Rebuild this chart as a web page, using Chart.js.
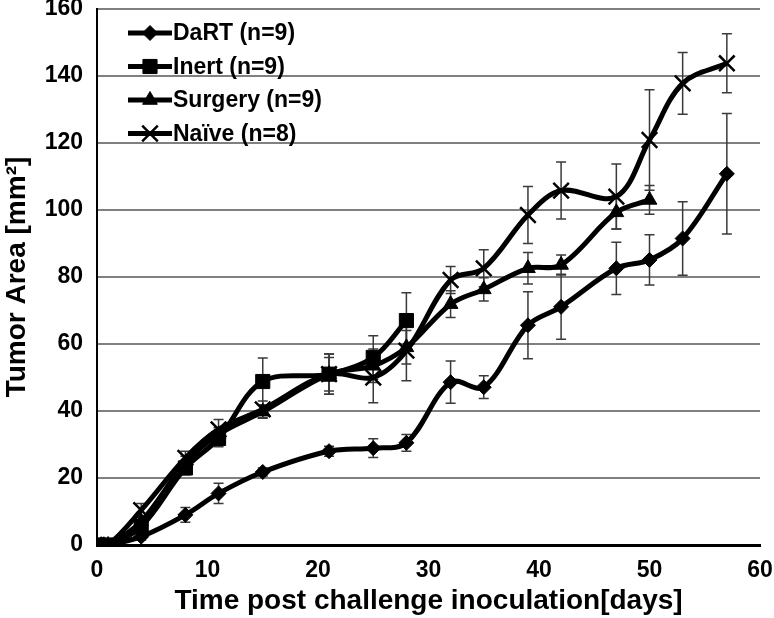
<!DOCTYPE html>
<html lang="en">
    <head>
        <meta charset="UTF-8">
        <title>Tumor Area</title>
        <script src="https://cdn.jsdelivr.net/npm/chart.js"></script>
        <style>
            body { margin: 0; background: #fff; }
        </style>
    </head>
    <body>
        <canvas id="tumor" width="774" height="618"></canvas>
    </body>
    <script>
        // days after challenge
        const days = [0, 1, 4, 8, 11, 15, 21, 25, 28, 32, 35, 39, 42, 47, 50, 53, 57];

        const dart = [0, 0, 2.5, 9, 15.4, 21.8, 28, 28.9, 30.5, 48.6, 47.1, 65.6, 71.1, 82.6, 85.1, 91.5, 110.8];
        const dartErr = [0, 0, 1, 2.2, 3, 1.2, 1.5, 2.8, 2.5, 6.3, 3.4, 10, 9.7, 7.8, 7.5, 11, 18];

        const inert = [0, 0, 5.5, 23, 31.8, 48.8, 51, 56, 67];
        const inertErr = [0, 0, 1.5, 2, 2.5, 7, 6, 6.5, 8.3];

        const surgery = [0, 0, 7, 24.5, 33, 39.8, 51, 53.5, 59, 71.9, 76.3, 82.6, 83.6, 99.3, 103];
        const surgeryErr = [0, 0, 1.5, 2, 2, 2, 5, 5, 5, 4, 3.5, 4.7, 3, 5, 4.3];

        const naive = [0, 0, 10.4, 26, 34.5, 40.5, 51, 50, 58, 79.1, 82.6, 98.5, 105.8, 104, 120.9, 137.8, 143.8];
        const naiveErr = [0, 0, 2, 2, 3, 2.5, 6, 7.5, 9, 4, 5.5, 8.5, 8.5, 9.7, 15, 9.2, 8.8];

        const FONT = '"Liberation Sans", Arial, sans-serif';

        const toPoints = (vals) => vals.map((v, i) => ({x: days[i], y: v}));

        const mkSet = (label, vals, errs, style, radius, bw) => ({
            label: label,
            data: toPoints(vals),
            errs: errs,
            borderColor: '#000',
            backgroundColor: '#000',
            borderWidth: 5,
            tension: 0.35,
            pointStyle: style,
            pointRadius: radius,
            pointBorderWidth: bw,
            pointBackgroundColor: '#000',
            pointBorderColor: '#000'
        });

        // error bars, drawn under the lines
        const errorBars = {
            id: 'errorBars',
            beforeDatasetsDraw(chart) {
                const ctx = chart.ctx;
                const xs = chart.scales.x, ys = chart.scales.y;
                ctx.save();
                ctx.strokeStyle = '#3a3a3a';
                ctx.lineWidth = 1.5;
                chart.data.datasets.forEach(ds => {
                    ds.data.forEach((p, i) => {
                        const e = ds.errs[i];
                        if (!e) return;
                        const px = xs.getPixelForValue(p.x);
                        const top = ys.getPixelForValue(p.y + e);
                        const bot = ys.getPixelForValue(p.y - e);
                        ctx.beginPath();
                        ctx.moveTo(px, top); ctx.lineTo(px, bot);
                        ctx.moveTo(px - 5, top); ctx.lineTo(px + 5, top);
                        ctx.moveTo(px - 5, bot); ctx.lineTo(px + 5, bot);
                        ctx.stroke();
                    });
                });
                ctx.restore();
            }
        };

        // legend inside the plot, line + marker like the original
        const innerLegend = {
            id: 'innerLegend',
            afterDraw(chart) {
                const ctx = chart.ctx;
                ctx.save();
                chart.data.datasets.forEach((ds, i) => {
                    const y = 33 + i * 33.5;
                    ctx.strokeStyle = '#000';
                    ctx.fillStyle = '#000';
                    ctx.lineWidth = 5;
                    ctx.beginPath();
                    ctx.moveTo(128, y); ctx.lineTo(172, y);
                    ctx.stroke();
                    ctx.lineWidth = ds.pointBorderWidth;
                    Chart.helpers.drawPoint(ctx, {
                        pointStyle: ds.pointStyle,
                        radius: ds.pointRadius,
                        rotation: 0,
                        borderWidth: ds.pointBorderWidth
                    }, 150, y);
                    ctx.font = 'bold 23px ' + FONT;
                    ctx.textBaseline = 'middle';
                    ctx.textAlign = 'left';
                    ctx.fillText(ds.label, 173, y + 1);
                });
                ctx.restore();
            }
        };

        new Chart(document.getElementById('tumor'), {
            type: 'line',
            data: {
                datasets: [
                    mkSet('DaRT (n=9)', dart, dartErr, 'rectRot', 7.5, 1),
                    mkSet('Inert (n=9)', inert, inertErr, 'rect', 10, 1),
                    mkSet('Surgery (n=9)', surgery, surgeryErr, 'triangle', 8.5, 1),
                    mkSet('Naïve (n=8)', naive, naiveErr, 'crossRot', 11, 2.5)
                ]
            },
            options: {
                responsive: false,
                animation: false,
                layout: { autoPadding: false, padding: { top: 9, right: 14, left: 0, bottom: 0 } },
                plugins: {
                    legend: { display: false },
                    tooltip: { enabled: false }
                },
                scales: {
                    x: {
                        type: 'linear',
                        min: 0,
                        max: 60,
                        afterFit: (s) => { s.height = 73; s.paddingLeft = 0; s.paddingRight = 0; },
                        grid: { display: false },
                        border: { display: true, color: '#000', width: 3 },
                        ticks: {
                            stepSize: 10,
                            padding: 4,
                            color: '#000',
                            font: { family: FONT, size: 23, weight: 'bold' }
                        },
                        title: {
                            display: true,
                            text: 'Time post challenge inoculation[days]',
                            color: '#000',
                            padding: { top: 0, bottom: 0 },
                            font: { family: FONT, size: 28, weight: 'bold' }
                        }
                    },
                    y: {
                        min: 0,
                        max: 160,
                        afterFit: (s) => { s.width = 97; s.paddingTop = 0; s.paddingBottom = 0; },
                        grid: {
                            drawTicks: false,
                            color: (c) => c.tick && c.tick.value === 0 ? '#000' : '#808080',
                            lineWidth: 2
                        },
                        border: { display: true, color: '#000', width: 2 },
                        ticks: {
                            stepSize: 20,
                            padding: 14,
                            color: '#000',
                            font: { family: FONT, size: 23, weight: 'bold' }
                        },
                        title: {
                            display: true,
                            text: 'Tumor Area [mm²]',
                            color: '#000',
                            padding: { top: 0, bottom: 0 },
                            font: { family: FONT, size: 28, weight: 'bold' }
                        }
                    }
                }
            },
            plugins: [errorBars, innerLegend]
        });
    </script>
</html>
